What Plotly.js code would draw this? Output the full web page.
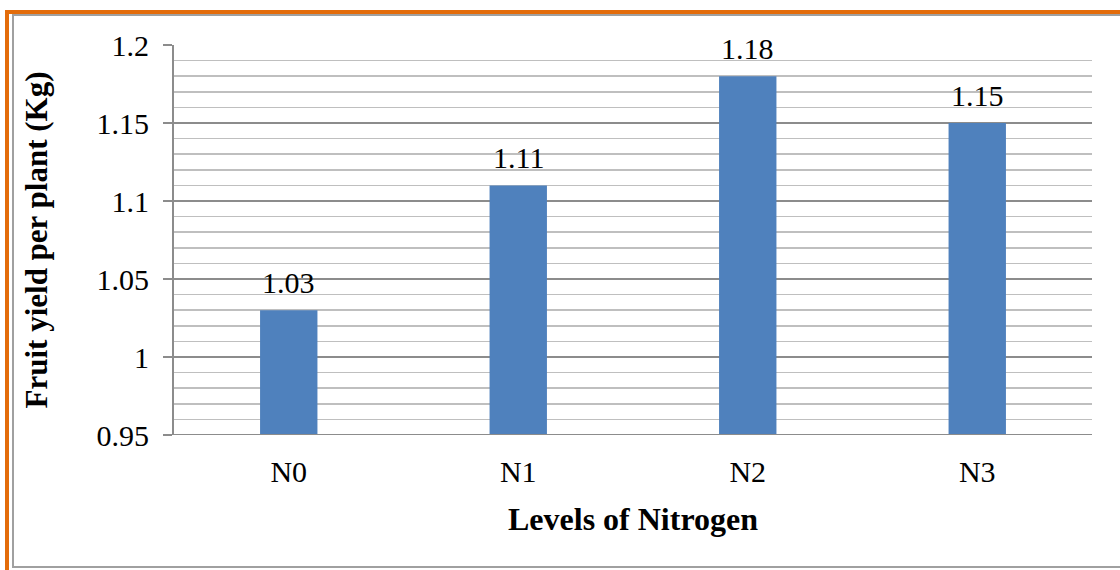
<!DOCTYPE html>
<html>
<head>
<meta charset="utf-8">
<script src="https://cdn.plot.ly/plotly-3.0.1.min.js"></script>
<style>
  html, body { margin: 0; padding: 0; background: #fff; }
  #wrap { position: relative; width: 1120px; height: 570px; }
  #chart { width: 1120px; height: 570px; }
  .deco { position: absolute; pointer-events: none; }
</style>
</head>
<body>
<div id="wrap">
  <div id="chart"></div>
  <div class="deco" style="left:5px; top:10px; width:1115px; height:4px; background:#E36C0A;"></div>
  <div class="deco" style="left:5px; top:10px; width:4px; height:560px; background:#E36C0A;"></div>
  <div class="deco" style="left:12px; top:14px; width:1108px; height:2px; background:#A0A0A0;"></div>
  <div class="deco" style="left:12px; top:14px; width:2px; height:554px; background:#A0A0A0;"></div>
  <div class="deco" style="left:12px; top:566px; width:1108px; height:2px; background:#A0A0A0;"></div>
</div>
<script>
const categories = ["N0", "N1", "N2", "N3"];
const yieldValues = [1.03, 1.11, 1.18, 1.15];
const valueLabels = ["1.03", "1.11", "1.18", "1.15"];
const yTickVals = [0.95, 1, 1.05, 1.1, 1.15, 1.2];
const yTickText = ["0.95", "1", "1.05", "1.1", "1.15", "1.2"];

const font = "Liberation Serif";

const trace = {
  type: "bar",
  x: categories,
  y: yieldValues,
  base: 0,
  marker: { color: "#4F81BD", line: { width: 0 } },
  cliponaxis: false,
  hoverinfo: "none"
};

const annotations = categories.map((c, i) => ({
  x: c,
  y: yieldValues[i],
  xref: "x",
  yref: "y",
  text: valueLabels[i],
  showarrow: false,
  yanchor: "bottom",
  yshift: 9,
  font: { family: font, size: 30, color: "#000" }
}));

const layout = {
  width: 1120,
  height: 570,
  margin: { l: 174, r: 28, t: 45, b: 135 },
  paper_bgcolor: "#fff",
  plot_bgcolor: "#fff",
  showlegend: false,
  bargap: 0.75,
  font: { family: font, color: "#000" },
  annotations: annotations,
  xaxis: {
    type: "category",
    showgrid: false,
    showline: false,
    ticks: "",
    ticklabelstandoff: 16,
    tickfont: { family: font, size: 30, color: "#000" },
    title: { text: "<b>Levels of Nitrogen</b>", font: { family: font, size: 32, color: "#000" }, standoff: 20 },
    zeroline: false
  },
  yaxis: {
    range: [0.95, 1.2],
    tickvals: yTickVals,
    ticktext: yTickText,
    ticks: "outside",
    ticklen: 9,
    tickcolor: "#8C8C8C",
    tickwidth: 2,
    ticklabelstandoff: 8,
    showline: true,
    linecolor: "#8C8C8C",
    linewidth: 2,
    showgrid: true,
    gridcolor: "#8C8C8C",
    gridwidth: 2,
    zeroline: false,
    minor: { dtick: 0.01, showgrid: true, gridcolor: "#BFBFBF", gridwidth: 1.5, ticks: "" },
    tickfont: { family: font, size: 30, color: "#000" },
    title: { text: "<b>Fruit yield per plant (Kg)</b>", font: { family: font, size: 31, color: "#000" }, standoff: 40 }
  },
  shapes: [
    { type: "line", xref: "paper", yref: "y", x0: -0.0098, x1: 1, y0: 0.95, y1: 0.95, line: { color: "#8C8C8C", width: 2 } }
  ]
};

Plotly.newPlot("chart", [trace], layout, { displayModeBar: false, staticPlot: true });
</script>
</body>
</html>
